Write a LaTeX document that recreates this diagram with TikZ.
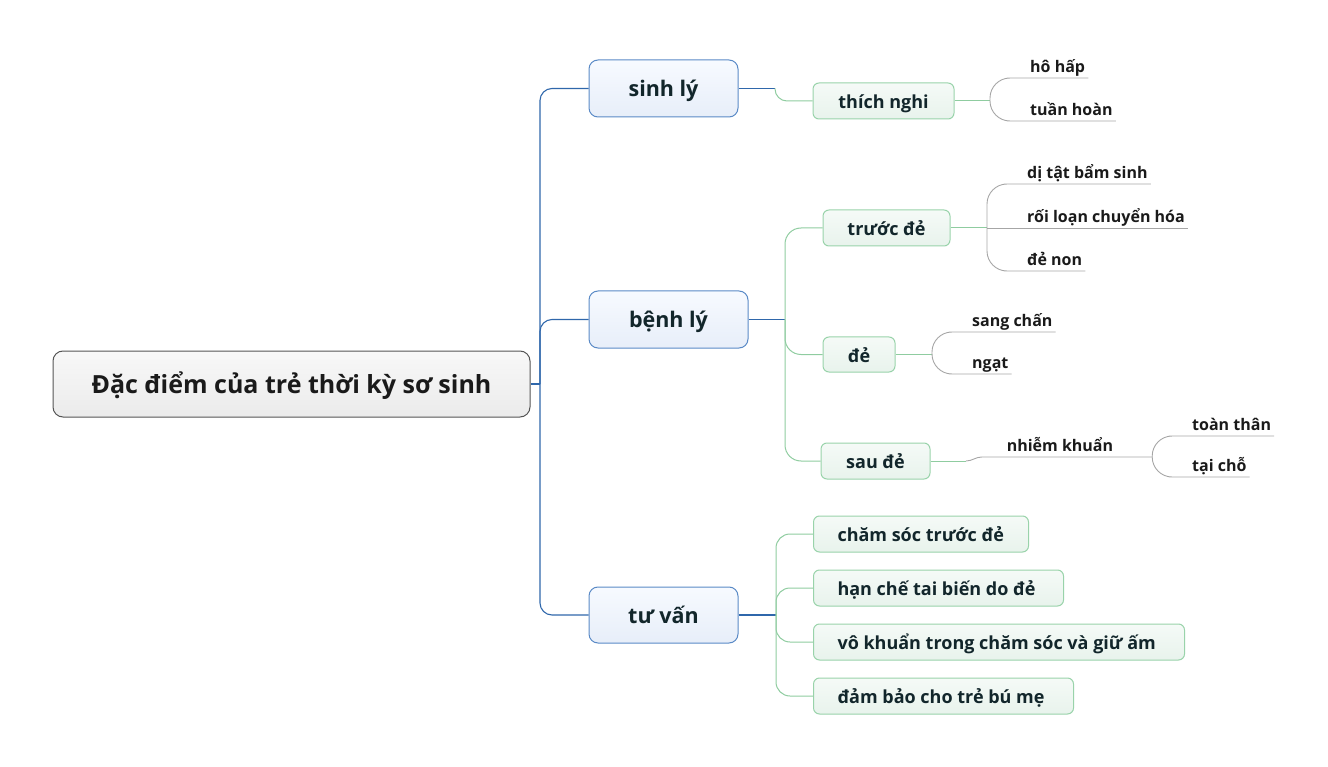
\documentclass[tikz,border=0pt]{standalone}
\usepackage{fontspec}
\setmainfont{Open Sans}
\definecolor{blline}{HTML}{2F67AB}
\definecolor{grline}{HTML}{8FCCA0}
\definecolor{gyline}{HTML}{A6A6A6}
\definecolor{lonebd}{HTML}{5A8AC6}
\definecolor{lonetop}{HTML}{F7FAFF}
\definecolor{lonebot}{HTML}{E7EEF9}
\definecolor{ltwobd}{HTML}{99D3AA}
\definecolor{ltwotop}{HTML}{F5FAF7}
\definecolor{ltwobot}{HTML}{E8F3EC}
\definecolor{rootbd}{HTML}{555555}
\definecolor{roottop}{HTML}{F8F8F8}
\definecolor{rootbot}{HTML}{EBEBEB}
\definecolor{darktxt}{HTML}{12262B}
\definecolor{leaftxt}{HTML}{1A1A1A}
\newcommand{\lbox}[2]{\makebox[#1][l]{#2}}
\begin{document}
\begin{tikzpicture}[x=1pt,y=-1pt,
  rootbox/.style={draw=rootbd, line width=1pt, rounded corners=10pt, top color=roottop, bottom color=rootbot, text=leaftxt, font=\bfseries\fontsize{25}{28}\selectfont, inner sep=0pt, text height=20pt, text depth=2pt},
  lonebox/.style={draw=lonebd, line width=1pt, rounded corners=9pt, top color=lonetop, bottom color=lonebot, text=darktxt, font=\bfseries\fontsize{21.5}{24}\selectfont, inner sep=0pt, text height=18pt, text depth=1.6pt},
  ltwobox/.style={draw=ltwobd, line width=1pt, rounded corners=6pt, top color=ltwotop, bottom color=ltwobot, text=darktxt, font=\bfseries\fontsize{18}{21}\selectfont, inner sep=0pt, minimum height=36pt, text height=16pt, text depth=1pt},
  listbox/.style={ltwobox, anchor=west, inner xsep=24pt},
  leaf/.style={text=leaftxt, font=\bfseries\fontsize{16}{18}\selectfont, inner xsep=3pt, inner ysep=1pt, text height=13pt, text depth=4pt},
  bl/.style={draw=blline, line width=1.1pt},
  gr/.style={draw=grline, line width=1pt},
  gy/.style={draw=gyline, line width=0.9pt}
]
\useasboundingbox (0,0) rectangle (1328,767);
% root and level 1
\node[rootbox, minimum width=477pt, minimum height=66pt] (root) at (291.5,384) {Đặc điểm của trẻ thời kỳ sơ sinh};
\node[lonebox, minimum width=149pt, minimum height=57pt] (sinh) at (663.5,88.5) {sinh lý};
\node[lonebox, minimum width=159pt, minimum height=57pt] (benh) at (668.5,319.5) {bệnh lý};
\node[lonebox, minimum width=149pt, minimum height=56pt] (tuvan) at (663.5,615) {tư vấn};
% level 2
\node[ltwobox, minimum width=141pt] (thich) at (883.5,101) {thích nghi};
\node[ltwobox, minimum width=127pt] (truoc) at (886.5,228) {trước đẻ};
\node[ltwobox, minimum width=72pt, minimum height=35pt] (de) at (859,354.5) {đẻ};
\node[ltwobox, minimum width=109pt] (saude) at (875.5,461) {sau đẻ};
\node[listbox] (cone) at (813,534) {\lbox{167pt}{chăm sóc trước đẻ}};
\node[listbox] (ctwo) at (813,588) {\lbox{202pt}{hạn chế tai biến do đẻ}};
\node[listbox] (cthree) at (813,642) {\lbox{323pt}{vô khuẩn trong chăm sóc và giữ ấm}};
\node[listbox] (cfour) at (813,696) {\lbox{212pt}{đảm bảo cho trẻ bú mẹ}};
% leaves
\node[leaf, anchor=south west] (hoha) at (1027,78) {hô hấp};
\node[leaf, anchor=south west] (tuan) at (1027,121) {tuần hoàn};
\node[leaf, anchor=south west] (ditat) at (1024,184) {dị tật bẩm sinh};
\node[leaf, anchor=south west] (roi) at (1024,228) {rối loạn chuyển hóa};
\node[leaf, anchor=south west] (denon) at (1024,271) {đẻ non};
\node[leaf, anchor=south west] (sang) at (969,332) {sang chấn};
\node[leaf, anchor=south west] (ngat) at (969,374) {ngạt};
\node[leaf, anchor=south, minimum width=184pt] (nhiem) at (1060,457) {nhiễm khuẩn};
\node[leaf, anchor=south west] (toan) at (1189,436) {toàn thân};
\node[leaf, anchor=south west] (tai) at (1189,477) {tại chỗ};
% trunk
\coordinate (jroot) at (540,384);
\draw[bl] (root.east) -- (jroot);
\draw[bl, rounded corners=12pt] (jroot) |- (sinh.west);
\draw[bl, rounded corners=12pt] (jroot) |- (benh.west);
\draw[bl, rounded corners=12pt] (jroot) |- (tuvan.west);
% sinh ly
\coordinate (jsinh) at (775,88.5);
\draw[bl] (sinh.east) -- (jsinh);
\draw[gr, rounded corners=12pt] (jsinh) |- (thich.west);
\coordinate (jthich) at (990,101);
\draw[gr] (thich.east) -- (jthich);
\draw[gy, rounded corners=20pt] (jthich) |- (hoha.south west) -- (hoha.south east);
\draw[gy, rounded corners=20pt] (jthich) |- (tuan.south west) -- (tuan.south east);
% benh ly
\coordinate (jbenh) at (785,319.5);
\draw[bl] (benh.east) -- (jbenh);
\draw[gr, rounded corners=16pt] (jbenh) |- (truoc.west);
\draw[gr, rounded corners=16pt] (jbenh) |- (de.west);
\draw[gr, rounded corners=16pt] (jbenh) |- (saude.west);
\coordinate (jtruoc) at (987,228);
\draw[gr] (truoc.east) -- (jtruoc);
\draw[gy, rounded corners=20pt] (jtruoc) |- (ditat.south west) -- (ditat.south east);
\draw[gy] (jtruoc) -- (roi.south east);
\draw[gy, rounded corners=20pt] (jtruoc) |- (denon.south west) -- (denon.south east);
\coordinate (jde) at (932,354.5);
\draw[gr] (de.east) -- (jde);
\draw[gy, rounded corners=20pt] (jde) |- (sang.south west) -- (sang.south east);
\draw[gy, rounded corners=20pt] (jde) |- (ngat.south west) -- (ngat.south east);
\coordinate (jsau) at (966,461);
\draw[gr] (saude.east) -- (jsau);
\draw[gy] (jsau) to[out=0, in=180] ([xshift=14pt]nhiem.south west) -- (nhiem.south east);
\draw[gy, rounded corners=20pt] (nhiem.south east) |- (toan.south west) -- (toan.south east);
\draw[gy, rounded corners=20pt] (nhiem.south east) |- (tai.south west) -- (tai.south east);
% tu van
\coordinate (jtu) at (776,615);
\draw[bl] (tuvan.east) -- (jtu);
\draw[gr, rounded corners=14pt] (jtu) |- (cone.west);
\draw[gr, rounded corners=14pt] (jtu) |- (ctwo.west);
\draw[gr, rounded corners=14pt] (jtu) |- (cthree.west);
\draw[gr, rounded corners=14pt] (jtu) |- (cfour.west);
\end{tikzpicture}
\end{document}
